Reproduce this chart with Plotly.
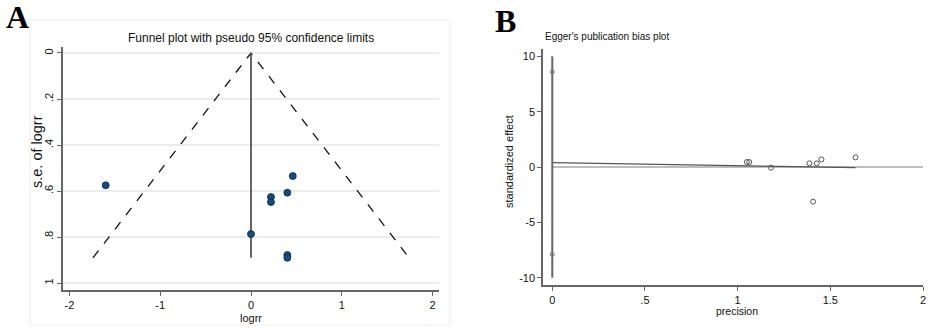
import plotly.graph_objects as go

W, H = 935, 329

# ---- Panel A: funnel plot data ----
logrr = [-1.60, 0.46, 0.40, 0.22, 0.22, 0.00, 0.40, 0.40]
se_logrr = [0.575, 0.535, 0.607, 0.626, 0.648, 0.787, 0.878, 0.890]
funnel_x = [-1.74, 0.0, 1.74]
funnel_se = [0.89, 0.0, 0.89]
pooled_x = [0.0, 0.0]
pooled_se = [0.0, 0.89]
a_xticks = [-2, -1, 0, 1, 2]
a_xlabels = ["-2", "-1", "0", "1", "2"]
a_yticks = [0, 0.2, 0.4, 0.6, 0.8, 1.0]
a_ylabels = ["0", ".2", ".4", ".6", ".8", "1"]

# ---- Panel B: Egger plot data ----
precision = [1.05, 1.063, 1.18, 1.387, 1.427, 1.452, 1.636, 1.407]
std_effect = [0.45, 0.45, -0.06, 0.33, 0.33, 0.69, 0.87, -3.13]
egger_prec = [0.0, 1.636]
egger_fit = [0.39, -0.06]
ref_prec = [0.0, 2.0]
ref_val = [0.0, 0.0]
ci_x = [0.0, 0.0]
ci_span = [-10.0, 10.0]
ci_bounds = [8.6, -7.9]
b_xticks = [0, 0.5, 1, 1.5, 2]
b_xlabels = ["0", ".5", "1", "1.5", "2"]
b_yticks = [-10, -5, 0, 5, 10]
b_ylabels = ["-10", "-5", "0", "5", "10"]

def px(x):
    return x / W

def py(y):
    return 1 - y / H

fig = go.Figure()

# Panel A traces
fig.add_trace(go.Scatter(x=funnel_x, y=funnel_se, mode="lines",
                         line=dict(color="#111111", width=1.3, dash="dash"),
                         xaxis="x", yaxis="y", showlegend=False, hoverinfo="skip"))
fig.add_trace(go.Scatter(x=pooled_x, y=pooled_se, mode="lines",
                         line=dict(color="#555555", width=1.8),
                         xaxis="x", yaxis="y", showlegend=False, hoverinfo="skip"))
fig.add_trace(go.Scatter(x=logrr, y=se_logrr, mode="markers",
                         marker=dict(color="#1a4a78", size=7, line=dict(color="#0d2c4d", width=0.8)),
                         xaxis="x", yaxis="y", showlegend=False))

# Panel B traces
fig.add_trace(go.Scatter(x=ref_prec, y=ref_val, mode="lines",
                         line=dict(color="#bdbdbd", width=2),
                         xaxis="x2", yaxis="y2", showlegend=False, hoverinfo="skip"))
fig.add_trace(go.Scatter(x=egger_prec, y=egger_fit, mode="lines",
                         line=dict(color="#555555", width=1.3),
                         xaxis="x2", yaxis="y2", showlegend=False, hoverinfo="skip"))
fig.add_trace(go.Scatter(x=ci_x, y=ci_span, mode="lines",
                         line=dict(color="#666666", width=2),
                         xaxis="x2", yaxis="y2", showlegend=False, hoverinfo="skip"))
fig.add_trace(go.Scatter(x=ci_x, y=ci_bounds, mode="markers",
                         marker=dict(symbol="circle-open", color="#777777", size=4, line=dict(width=1)),
                         xaxis="x2", yaxis="y2", showlegend=False))
fig.add_trace(go.Scatter(x=precision, y=std_effect, mode="markers",
                         marker=dict(symbol="circle-open", color="#555555", size=5, line=dict(width=1)),
                         xaxis="x2", yaxis="y2", showlegend=False))

axis_common = dict(showline=True, linecolor="#666666", linewidth=1.5,
                   ticks="outside", ticklen=4, tickcolor="#666666", tickwidth=1.2,
                   tickfont=dict(family="Liberation Sans, Arial", size=11, color="#111111"),
                   zeroline=False, automargin=False)

fig.update_layout(
    template="none",
    width=W, height=H,
    margin=dict(l=0, r=0, t=0, b=0, autoexpand=False),
    paper_bgcolor="white", plot_bgcolor="white",
    xaxis=dict(domain=[px(63), px(439)], range=[-2.07, 2.07],
               tickvals=a_xticks, ticktext=a_xlabels, showgrid=False,
               anchor="y", **axis_common),
    yaxis=dict(domain=[py(290), py(47)], range=[1.03, -0.026],
               tickvals=a_yticks, ticktext=a_ylabels, tickangle=-90,
               showgrid=True, gridcolor="#ececec", gridwidth=1.5,
               anchor="x", **axis_common),
    xaxis2=dict(domain=[px(543), px(923)], range=[-0.05, 2.0],
                tickvals=b_xticks, ticktext=b_xlabels, showgrid=False,
                anchor="y2", **axis_common),
    yaxis2=dict(domain=[py(285), py(49)], range=[-10.66, 10.66],
                tickvals=b_yticks, ticktext=b_ylabels, showgrid=False,
                anchor="x2", **axis_common),
)

font_s = "Liberation Sans, Arial"
annotations = [
    dict(text="<b>A</b>", x=px(4), y=py(-3), xanchor="left", yanchor="top",
         font=dict(family="Liberation Serif, Times New Roman", size=32, color="#000000")),
    dict(text="<b>B</b>", x=px(493), y=py(1), xanchor="left", yanchor="top",
         font=dict(family="Liberation Serif, Times New Roman", size=32, color="#000000")),
    dict(text="Funnel plot with pseudo 95% confidence limits", x=px(251), y=py(38),
         xanchor="center", yanchor="middle",
         font=dict(family=font_s, size=12, color="#111111")),
    dict(text="s.e. of logrr", x=px(37), y=py(152), textangle=-90,
         xanchor="center", yanchor="middle",
         font=dict(family=font_s, size=14.5, color="#111111")),
    dict(text="logrr", x=px(251), y=py(318), xanchor="center", yanchor="middle",
         font=dict(family=font_s, size=11, color="#111111")),
    dict(text="Egger's publication bias plot", x=px(543), y=py(37),
         xanchor="left", yanchor="middle",
         font=dict(family=font_s, size=10, color="#111111")),
    dict(text="standardized effect", x=px(509), y=py(162), textangle=-90,
         xanchor="center", yanchor="middle",
         font=dict(family=font_s, size=11, color="#111111")),
    dict(text="precision", x=px(737), y=py(311), xanchor="center", yanchor="middle",
         font=dict(family=font_s, size=10.5, color="#111111")),
]
for a in annotations:
    a.update(xref="paper", yref="paper", showarrow=False)
fig.update_layout(annotations=annotations)

fig.add_shape(type="rect", xref="paper", yref="paper",
              x0=px(30), x1=px(450), y0=py(325), y1=py(20),
              line=dict(color="#eeeeee", width=1), layer="below")

fig.write_html("out.html",
               config={"displayModeBar": False},
               post_script="document.body.style.margin='0';document.body.style.overflow='hidden';")
